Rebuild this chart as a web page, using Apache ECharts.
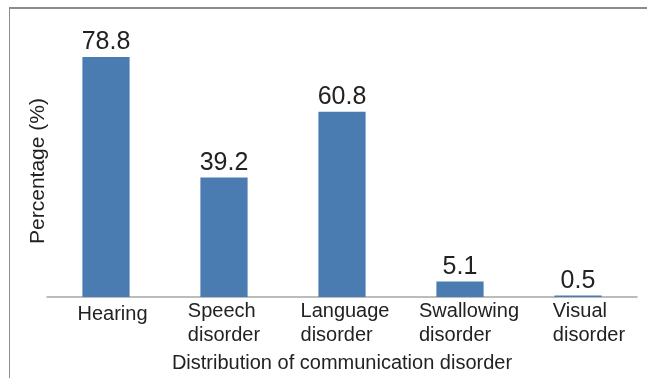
<!DOCTYPE html>
<html>
<head>
<meta charset="utf-8">
<script src="https://cdn.jsdelivr.net/npm/echarts@6/dist/echarts.min.js"></script>
<style>
  html, body { margin: 0; padding: 0; background: #fff; overflow: hidden; }
  #frame { position: absolute; left: 9px; top: 7px; width: 638px; height: 371px;
           border-top: 2px solid #8c8c8c; border-left: 1px solid #8c8c8c; box-sizing: border-box; }
  #chart { position: absolute; left: 0; top: 0; width: 647px; height: 378px; }
</style>
</head>
<body>
<div id="frame"></div>
<div id="chart"></div>
<script>
// categories and values
var categories = ['Hearing', 'Speech\ndisorder', 'Language\ndisorder', 'Swallowing\ndisorder', 'Visual\ndisorder']
var percentages = [78.8, 39.2, 60.8, 5.1, 0.5]
var xName = 'Distribution of communication disorder'
var yName = 'Percentage (%)'

var font = 'Liberation Sans, Arial, sans-serif'
// padding per label [top, left]; the original puts the text blocks a bit right of the bars
var labelPad = [[6, 13], [0, 0], [0, 6], [0, 18], [0, 22]]
var rich = {}
labelPad.forEach(function(p, i) {
    rich['c' + i] = { align: 'left', fontFamily: font, fontSize: 20, lineHeight: 23.5, color: '#222', padding: [p[0], 0, 0, p[1]] }
})

var chart = echarts.init(document.getElementById('chart'))

var options = {
    animation: false,
    grid: { left: 47, right: 10, top: 53.3, bottom: 81, containLabel: false, outerBoundsMode: 'none' },
    xAxis: {
        type: 'category',
        data: categories,
        name: xName,
        nameLocation: 'middle',
        nameGap: 56,
        nameMoveOverlap: false,
        nameTextStyle: { fontFamily: font, fontSize: 20, color: '#222' },
        axisLine: { lineStyle: { color: '#a6a6a6', width: 1.5 } },
        axisTick: { show: false },
        axisLabel: {
            interval: 0,
            margin: 3,
            color: '#222',
            fontFamily: font,
            fontSize: 20,
            lineHeight: 23.5,
            formatter: function(value, index) {
                return value.split('\n').map(function(s) { return '{c' + index + '|' + s + '}' }).join('\n')
            },
            rich: rich
        }
    },
    yAxis: {
        type: 'value',
        min: 0,
        max: 80,
        show: false
    },
    graphic: [{
        type: 'text',
        x: 38,
        y: 171,
        rotation: Math.PI / 2,
        style: {
            text: yName,
            font: '21px ' + font,
            fill: '#222',
            align: 'center',
            verticalAlign: 'middle'
        }
    }],
    series: [{
        type: 'bar',
        data: percentages,
        barWidth: '40%',
        itemStyle: { color: '#4a7bb1' },
        label: {
            show: true,
            position: 'top',
            distance: 2,
            fontFamily: font,
            fontSize: 25,
            color: '#222'
        }
    }]
}
chart.setOption(options)
</script>
</body>
</html>
